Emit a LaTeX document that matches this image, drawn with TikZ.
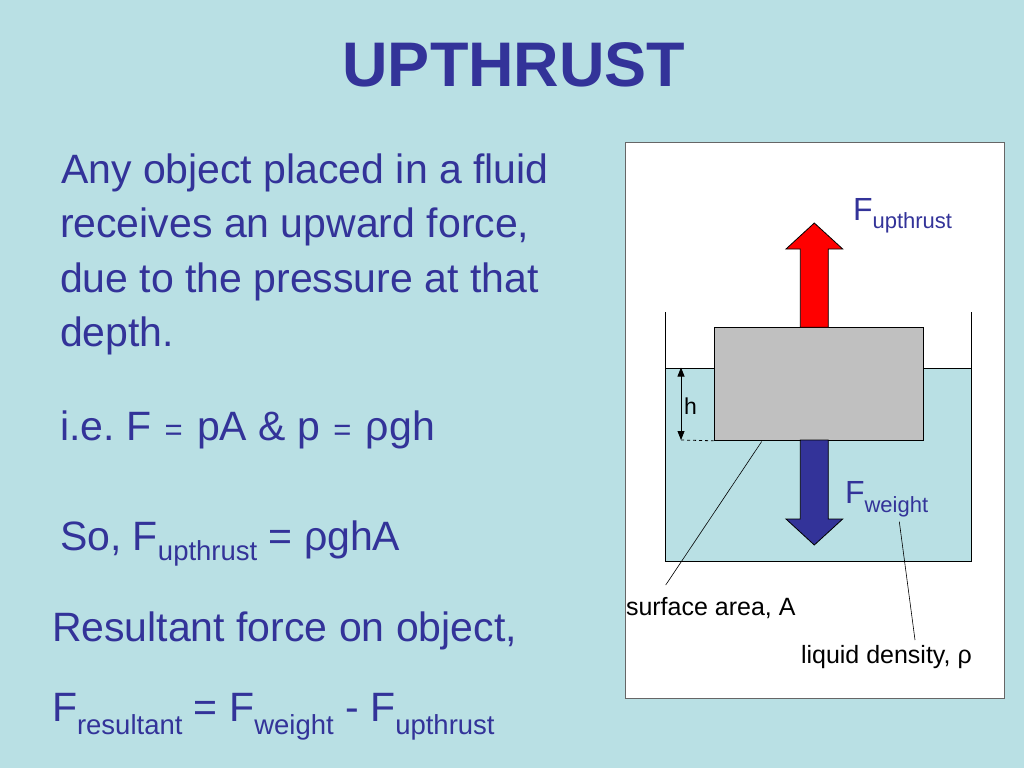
\documentclass[tikz,border=0pt]{standalone}
\usepackage{fontspec}
\setmainfont{Liberation Sans}
\usetikzlibrary{arrows.meta}
\definecolor{bgblue}{RGB}{185,224,228}
\definecolor{txtblue}{RGB}{51,51,153}
\definecolor{blockgray}{RGB}{192,192,192}
\newcommand{\mysub}[3]{{\fontsize{#1}{#1}\selectfont\raisebox{-#2pt}{#3}}}
\newcommand{\smeq}{\hspace{2pt}{\fontsize{31}{31}\selectfont=}\hspace{3pt}}
\frenchspacing
\begin{document}
\begin{tikzpicture}[x=1pt,y=-1pt,
  txt/.style={inner sep=0pt,outer sep=0pt,anchor=base west,text=txtblue,font=\fontsize{41}{48}\selectfont},
  lbl/.style={inner sep=0pt,outer sep=0pt,anchor=base west,text=black,font=\fontsize{25}{28}\selectfont},
  hlbl/.style={inner sep=0pt,outer sep=0pt,anchor=base west,text=black,font=\fontsize{23}{28}\selectfont},
  flbl/.style={inner sep=0pt,outer sep=0pt,anchor=base west,text=txtblue,font=\fontsize{32}{38}\selectfont},
  thin line/.style={draw=black,line width=0.8pt}]
\fill[bgblue] (0,0) rectangle (1024,768);
\useasboundingbox (0,0) rectangle (1024,768);
% title
\node[inner sep=0pt,anchor=base,text=txtblue,font=\fontsize{63}{70}\selectfont\bfseries] (title) at (514,86.7) {UPTHRUST};
% left text
\node[txt] (l1) at (61,183.5) {Any object placed in a fluid};
\node[txt] (l2) at (60,237.5) {receives an upward force,};
\node[txt] (l3) at (60,292.5) {due to the pressure at that};
\node[txt] (l4) at (60,346) {depth.};
\node[txt] (ie) at (60,440) {i.e. F \smeq{} pA \& p \smeq{} ρgh};
\node[txt] (so) at (60,550) {So, F\mysub{27.5}{10}{upthrust} = ρghA};
\node[txt] (res) at (52,641.7) {Resultant force on object,};
\node[txt] (fres) at (52,721.7) {F\mysub{27.5}{13}{resultant} = F\mysub{27.5}{13}{weight} - F\mysub{27.5}{13}{upthrust}};
% panel
\draw[fill=white,draw=black!60,line width=1pt] (625,142) rectangle (1004,698);
% water
\fill[bgblue] (665,368) rectangle (971.7,561);
\draw[thin line] (665,312) -- (665,561) -- (971.7,561) -- (971.7,312);
\draw[thin line] (665,368) -- (713.7,368);
\draw[thin line] (923.3,368) -- (971.7,368);
% block
\node[draw=black,line width=0.8pt,fill=blockgray,inner sep=0pt,minimum width=209.6pt,minimum height=112.7pt,anchor=north west] (block) at (713.7,327.3) {};
% red arrow (upthrust)
\draw[fill=red,draw=black,line width=0.8pt] (800.3,327.3) -- (800.3,249) -- (786,249) -- (814.3,223) -- (842.7,249) -- (828.3,249) -- (828.3,327.3) -- cycle;
% blue arrow (weight)
\draw[fill=txtblue,draw=black,line width=0.8pt] (800.3,440) -- (800.3,519) -- (786,519) -- (814.3,545) -- (842.7,519) -- (828.3,519) -- (828.3,440) -- cycle;
% h dimension
\coordinate (htop) at (681,367.5);
\coordinate (hbot) at (681,440);
\draw[{Triangle[length=9pt,width=7pt]}-{Triangle[length=9pt,width=7pt]},line width=0.8pt] (htop) -- (hbot);
\draw[dashed,line width=0.8pt] (hbot) -- (block.south west);
\node[hlbl] (h) at (684,414) {h};
% force labels
\node[flbl] (fup) at (853,220) {F\mysub{22}{8}{upthrust}};
\node[flbl] (fw) at (845,503) {F\mysub{22}{9}{weight}};
% labels
\node[lbl] (sa) at (626,615) {surface area, A};
\node[lbl] (ld) at (801,663) {liquid density, ρ};
\coordinate (saA) at (761.7,441.5);
\coordinate (saB) at (665.7,585);
\coordinate (ldA) at (899.3,521.7);
\coordinate (ldB) at (915,640);
\draw[line width=0.6pt] (saA) -- (saB);
\draw[line width=0.6pt] (ldA) -- (ldB);
\end{tikzpicture}
\end{document}
